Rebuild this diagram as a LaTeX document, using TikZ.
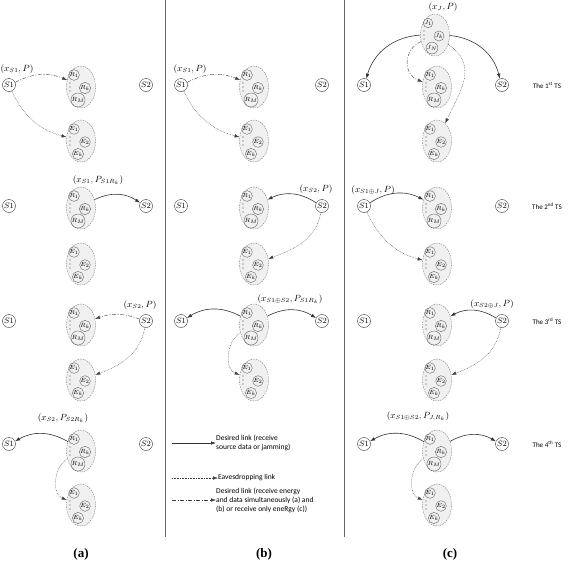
\documentclass[tikz,border=0pt]{standalone}
\usepackage{fontspec}
\usepackage{tikz}
\usetikzlibrary{shapes.geometric, arrows.meta, positioning}
\newfontfamily\keyfont{Carlito}
\newfontfamily\capfont{Liberation Serif}

\tikzset{
  snode/.style = {draw=black!80, circle, minimum size=13pt, inner sep=0pt, font=\fontsize{8}{8}\selectfont},
  grp/.style = {draw=black!50, ellipse, dash pattern=on 1.5pt off 1pt, fill=black!6, minimum width=29pt, minimum height=42pt, inner sep=0pt},
  mem/.style = {draw=black!60, circle, minimum size=9pt, inner sep=0pt, font=\fontsize{6.2}{6.5}\selectfont},
  lbl/.style = {inner sep=0pt, font=\fontsize{9}{10}\selectfont},
  ts/.style = {inner sep=0pt, font=\keyfont\fontsize{7}{8}\selectfont},
  key/.style = {inner sep=0pt, align=left, anchor=west, font=\keyfont\fontsize{7.5}{9}\selectfont},
  subcap/.style = {font=\capfont\bfseries\fontsize{13}{15}\selectfont},
  datalink/.style = {->, draw=black!80, semithick},
  eaves/.style = {->, draw=black!75, dash pattern=on 0.7pt off 0.9pt},
  enlink/.style = {->, draw=black!75, dash pattern=on 4pt off 1.5pt on 1pt off 1.5pt},
}

% group of terminals: name, position, letter, middle index, last index
\newcommand{\grp}[5]{%
  \begin{scope}[shift={(#2)}]
    \node[grp] (#1) at (0,0) {};
    \node[mem] (#1-1) at (-7,-12) {$#3_1$};
    \node[mem] (#1-2) at (4,1) {$#3_{#4}$};
    \node[mem] (#1-3) at (-3,13) {$#3_{#5}$};
    \fill[black!70] (-11,-4) circle (0.55pt) (-11,0) circle (0.55pt) (-11,4) circle (0.55pt);
  \end{scope}}

\begin{document}
\begin{tikzpicture}[x=1pt, y=-1pt, >={Latex[length=5pt,width=3.5pt]}]
\useasboundingbox (0,0) rectangle (568,568);
\draw[black!60] (165,0) -- (165,537);
\draw[black!60] (344,0) -- (344,537);

% (a)
\node[snode] (a1S1) at (9,85) {$S1$};
\node[snode] (a1S2) at (146,85) {$S2$};
\grp{a1R}{81,87}{R}{k}{M}
\grp{a1E}{81,141}{E}{2}{k}
\node[lbl] (a1L) at (17,69) {$(x_{S1},P)$};
\draw[enlink] (a1S1) to[bend left=25] (a1R);
\draw[eaves] (a1S1) to[out=-65, in=165] (a1E);

\node[snode] (a2S1) at (9,206) {$S1$};
\node[snode] (a2S2) at (146,206) {$S2$};
\grp{a2R}{81,208}{R}{k}{M}
\grp{a2E}{81,264}{E}{2}{k}
\node[lbl] (a2L) at (98,180) {$\left(x_{S1},P_{S1R_k}\right)$};
\draw[datalink] (a2R) to[bend left=30] (a2S2);

\node[snode] (a3S1) at (9,321) {$S1$};
\node[snode] (a3S2) at (146,321) {$S2$};
\grp{a3R}{81,325}{R}{k}{M}
\grp{a3E}{81,380}{E}{2}{k}
\node[lbl] (a3L) at (140,305) {$(x_{S2},P)$};
\draw[enlink] (a3S2) to[bend right=20] (a3R);
\draw[eaves] (a3S2) to[out=-100, in=20] (a3E);

\node[snode] (a4S1) at (9,444) {$S1$};
\node[snode] (a4S2) at (146,444) {$S2$};
\grp{a4R}{81,451}{R}{k}{M}
\grp{a4E}{81,505}{E}{2}{k}
\node[lbl] (a4L) at (63,418) {$\left(x_{S2},P_{S2R_k}\right)$};
\draw[datalink] (a4R) to[bend right=30] (a4S1);
\draw[eaves] (a4R) to[out=210, in=160] (a4E);

% (b)
\node[snode] (b1S1) at (181,85) {$S1$};
\node[snode] (b1S2) at (322,85) {$S2$};
\grp{b1R}{254,87}{R}{k}{M}
\grp{b1E}{254,141}{E}{2}{k}
\node[lbl] (b1L) at (190,69) {$(x_{S1},P)$};
\draw[enlink] (b1S1) to[bend left=25] (b1R);
\draw[eaves] (b1S1) to[out=-65, in=165] (b1E);

\node[snode] (b2S1) at (181,206) {$S1$};
\node[snode] (b2S2) at (322,206) {$S2$};
\grp{b2R}{254,208}{R}{k}{M}
\grp{b2E}{254,264}{E}{2}{k}
\node[lbl] (b2L) at (316,189) {$(x_{S2},P)$};
\draw[datalink] (b2S2) to[bend right=30] (b2R);
\draw[eaves] (b2S2) to[out=-100, in=20] (b2E);

\node[snode] (b3S1) at (181,321) {$S1$};
\node[snode] (b3S2) at (322,321) {$S2$};
\grp{b3R}{254,325}{R}{k}{M}
\grp{b3E}{254,380}{E}{2}{k}
\node[lbl] (b3L) at (290,299) {$\left(x_{S1\oplus S2},P_{S1R_k}\right)$};
\draw[datalink] (b3R) to[bend right=30] (b3S1);
\draw[datalink] (b3R) to[bend left=30] (b3S2);
\draw[eaves] (b3R) to[out=210, in=160] (b3E);

% legend
\coordinate (k1s) at (172,443);
\node[key, right=44pt of k1s] (k1) {Desired link (receive\\source data or jamming)};
\draw[datalink] (k1s) -- (k1.west);
\coordinate (k2s) at (172,478);
\node[key, right=46pt of k2s] (k2) {Eavesdropping link};
\draw[eaves] (k2s) -- (k2.west);
\coordinate (k3s) at (172,500);
\node[key, right=44pt of k3s] (k3) {Desired link (receive energy\\and data simultaneously (a) and\\(b) or receive only eneRgy (c))};
\draw[enlink] (k3s) -- (k3.west);

% (c)
\grp{c1J}{435,35}{J}{k}{N}
\node[lbl] (c1L) at (443,7) {$(x_J,P)$};
\node[snode] (c1S1) at (364,85) {$S1$};
\node[snode] (c1S2) at (502,85) {$S2$};
\grp{c1R}{437,87}{R}{k}{M}
\grp{c1E}{437,141}{E}{2}{k}
\node[ts] (ts1) at (547,85) {The 1\textsuperscript{st} TS};
\draw[datalink] (c1J) to[bend right=35] (c1S1);
\draw[datalink] (c1J) to[bend left=35] (c1S2);
\draw[enlink] (c1J) to[out=205, in=160, looseness=1.3] (c1R);
\draw[eaves] (c1J) to[out=-35, in=65, looseness=1.2] (c1E);

\node[snode] (c2S1) at (364,206) {$S1$};
\node[snode] (c2S2) at (502,206) {$S2$};
\grp{c2R}{437,208}{R}{k}{M}
\grp{c2E}{437,264}{E}{2}{k}
\node[lbl] (c2L) at (373,190) {$(x_{S1\oplus J},P)$};
\node[ts] (ts2) at (547,206) {The 2\textsuperscript{nd} TS};
\draw[datalink] (c2S1) to[bend left=30] (c2R);
\draw[eaves] (c2S1) to[out=-65, in=165] (c2E);

\node[snode] (c3S1) at (364,321) {$S1$};
\node[snode] (c3S2) at (502,321) {$S2$};
\grp{c3R}{437,325}{R}{k}{M}
\grp{c3E}{437,380}{E}{2}{k}
\node[lbl] (c3L) at (492,304) {$(x_{S2\oplus J},P)$};
\node[ts] (ts3) at (547,321) {The 3\textsuperscript{rd} TS};
\draw[datalink] (c3S2) to[bend right=30] (c3R);
\draw[eaves] (c3S2) to[out=-100, in=20] (c3E);

\node[snode] (c4S1) at (364,444) {$S1$};
\node[snode] (c4S2) at (502,444) {$S2$};
\grp{c4R}{437,451}{R}{k}{M}
\grp{c4E}{437,505}{E}{2}{k}
\node[lbl] (c4L) at (418,416) {$\left(x_{S1\oplus S2},P_{J,R_k}\right)$};
\node[ts] (ts4) at (547,444) {The 4\textsuperscript{th} TS};
\draw[datalink] (c4R) to[bend right=30] (c4S1);
\draw[datalink] (c4R) to[bend left=30] (c4S2);
\draw[eaves] (c4R) to[out=210, in=160] (c4E);

% captions
\node[subcap] (capa) at (81,554) {(a)};
\node[subcap] (capb) at (264,554) {(b)};
\node[subcap] (capc) at (450,554) {(c)};
\end{tikzpicture}
\end{document}
